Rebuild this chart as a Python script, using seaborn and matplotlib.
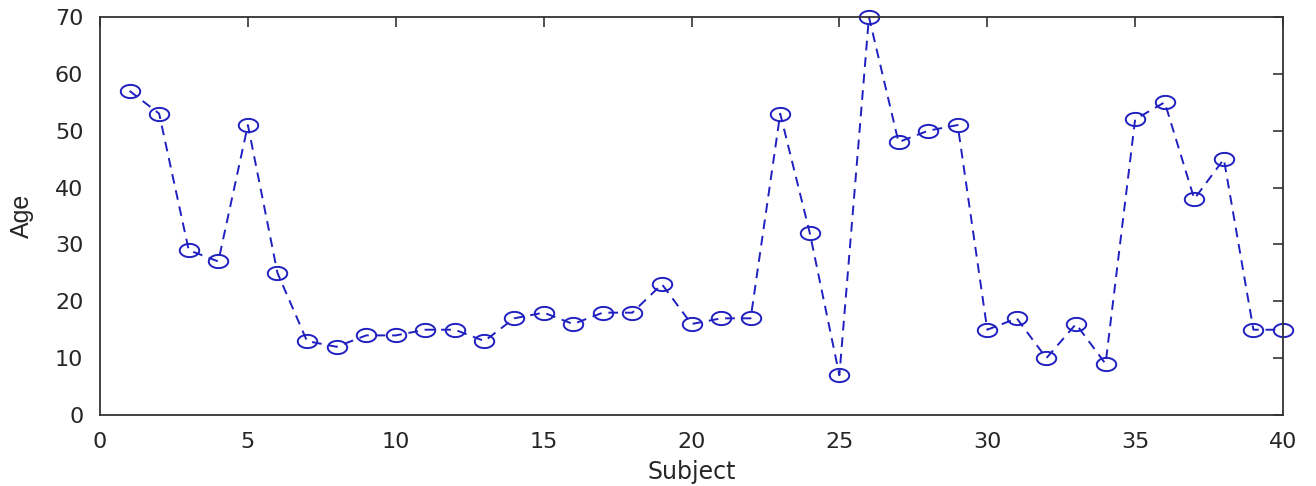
import matplotlib
matplotlib.use("Agg")
import matplotlib.pyplot as plt
from matplotlib.path import Path
import seaborn as sns
import pandas as pd
import numpy as np

subjects = list(range(1, 41))
ages = [57, 53, 29, 27, 51, 25, 13, 12, 14, 14, 15, 15, 13, 17, 18, 16, 18, 18, 23, 16,
        17, 17, 53, 32, 7, 70, 48, 50, 51, 15, 17, 10, 16, 9, 52, 55, 38, 45, 15, 15]
x_ticks = [0, 5, 10, 15, 20, 25, 30, 35, 40]
y_ticks = [0, 10, 20, 30, 40, 50, 60, 70]

sns.set_style("white")
plt.rcParams['font.family'] = ['DejaVu Sans']

df = pd.DataFrame({"Subject": subjects, "Age": ages})

# elliptical marker (the reference is stretched horizontally)
t = np.linspace(0, 2 * np.pi, 61)
ellipse = Path(np.column_stack([np.cos(t), 0.68 * np.sin(t)]), closed=True)

fig = plt.figure(figsize=(13.16, 4.86), dpi=100)
ax = fig.add_axes([100/1316, 1 - 415/486, (1283-100)/1316, (415-17)/486])

color = "#2020c0"
sns.lineplot(data=df, x="Subject", y="Age", ax=ax, color=color,
             linewidth=1.4, marker=ellipse, markersize=14, markerfacecolor="none",
             markeredgecolor=color, markeredgewidth=1.4)
for line in ax.lines:
    line.set_linestyle((0, (5, 3.5)))
    line.set_clip_on(False)

ax.set_xlim(0, 40)
ax.set_ylim(0, 70)
ax.set_xticks(x_ticks)
ax.set_yticks(y_ticks)
ax.tick_params(direction="in", top=True, right=True, length=7, width=1.2,
               labelsize=16, colors="#333333", pad=12)
for s in ax.spines.values():
    s.set_visible(True)
    s.set_color("#333333")
    s.set_linewidth(1.3)
for lab in ax.get_xticklabels() + ax.get_yticklabels():
    lab.set_color("#262626")
ax.set_xlabel("Subject", fontsize=17, color="#262626", labelpad=6)
ax.set_ylabel("Age", fontsize=18, color="#262626", labelpad=15,
              family=["Liberation Sans Narrow", "Liberation Sans", "DejaVu Sans"])
ax.grid(False)

fig.savefig("out.png", dpi=100)
